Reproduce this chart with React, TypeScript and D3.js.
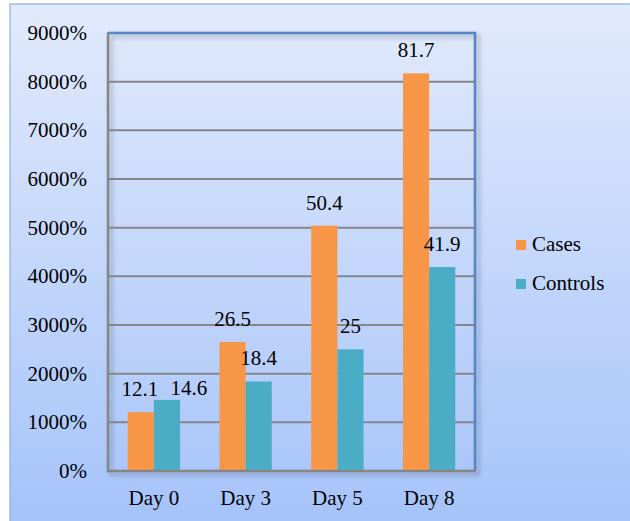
import { useEffect, useRef } from "react";
import * as d3 from "d3";

const days = ["Day 0", "Day 3", "Day 5", "Day 8"];
const seriesNames = ["Cases", "Controls"];
const cases = [12.1, 26.5, 50.4, 81.7];
const controls = [14.6, 18.4, 25, 41.9];
const yTicks = [0, 10, 20, 30, 40, 50, 60, 70, 80, 90];

const colors: Record<string, string> = { Cases: "#F79646", Controls: "#4BACC6" };

export default function App() {
  const ref = useRef<SVGSVGElement | null>(null);

  useEffect(() => {
    if (!ref.current) return;
    const svg = d3.select(ref.current);
    svg.selectAll("*").remove();

    const W = 630;
    const H = 521;
    const plot = { left: 108, right: 475, top: 33, bottom: 471 };
    const font = "Liberation Serif";

    const defs = svg.append("defs");
    const grad = defs
      .append("linearGradient")
      .attr("id", "bg")
      .attr("x1", 0)
      .attr("y1", 0)
      .attr("x2", 0)
      .attr("y2", 1);
    grad.append("stop").attr("offset", "0%").attr("stop-color", "#E2EAFC");
    grad.append("stop").attr("offset", "100%").attr("stop-color", "#A5C3FA");

    const shadow = defs.append("filter").attr("id", "shadow").attr("x", "-5%").attr("y", "-5%").attr("width", "115%").attr("height", "115%");
    shadow
      .append("feDropShadow")
      .attr("dx", 3)
      .attr("dy", 3)
      .attr("stdDeviation", 2.5)
      .attr("flood-color", "#000")
      .attr("flood-opacity", 0.35);

    // chart area
    svg
      .append("rect")
      .attr("x", 10)
      .attr("y", 4)
      .attr("width", W)
      .attr("height", H)
      .attr("fill", "url(#bg)")
      .attr("stroke", "#8EB0E6")
      .attr("stroke-width", 1.2);

    const x0 = d3.scaleBand<string>().domain(days).range([plot.left, plot.right]).paddingInner(0.43).paddingOuter(0.215);
    const x1 = d3.scaleBand<string>().domain(seriesNames).range([0, x0.bandwidth()]);
    const y = d3.scaleLinear().domain([0, 90]).range([plot.bottom, plot.top]);

    // plot frame with shadow
    svg
      .append("rect")
      .attr("x", plot.left)
      .attr("y", plot.top)
      .attr("width", plot.right - plot.left)
      .attr("height", plot.bottom - plot.top)
      .attr("fill", "none")
      .attr("stroke", "#7A9CCB")
      .attr("stroke-width", 2)
      .attr("filter", "url(#shadow)");

    // gridlines
    svg
      .append("g")
      .selectAll("line")
      .data(yTicks.slice(1, -1))
      .join("line")
      .attr("x1", plot.left)
      .attr("x2", plot.right)
      .attr("y1", (d) => y(d))
      .attr("y2", (d) => y(d))
      .attr("stroke", "#868686")
      .attr("stroke-width", 2);

    // top / right border
    svg
      .append("path")
      .attr("d", `M${plot.left},${plot.top}H${plot.right}V${plot.bottom}`)
      .attr("fill", "none")
      .attr("stroke", "#5585C4")
      .attr("stroke-width", 2.5);

    // bars
    const rows = days.map((day, i) => ({ day, values: [cases[i], controls[i]] }));
    const groups = svg
      .append("g")
      .selectAll("g")
      .data(rows)
      .join("g")
      .attr("transform", (d) => `translate(${x0(d.day)},0)`);

    groups
      .selectAll("rect")
      .data((d) => d.values.map((v, j) => ({ day: d.day, s: seriesNames[j], v })))
      .join("rect")
      .attr("x", (d) => x1(d.s)!)
      .attr("width", x1.bandwidth())
      .attr("y", (d) => y(d.v))
      .attr("height", (d) => y(0) - y(d.v))
      .attr("fill", (d) => colors[d.s]);

    // left / bottom axis lines
    svg
      .append("path")
      .attr("d", `M${plot.left},${plot.top}V${plot.bottom}H${plot.right}`)
      .attr("fill", "none")
      .attr("stroke", "#868686")
      .attr("stroke-width", 2.5);

    const styleText = (sel: d3.Selection<SVGTextElement, any, any, any>) =>
      sel.style("font-family", `"${font}", "Times New Roman", serif`).style("font-size", "21px").attr("fill", "#000");

    // value labels (Day 0 Controls label was nudged aside in the original)
    const shift: Record<string, [number, number]> = { "Day 0|Controls": [22, 11.5], "Day 0|Cases": [-1, 0] };
    groups
      .selectAll("text")
      .data((d) => d.values.map((v, j) => ({ day: d.day, s: seriesNames[j], v })))
      .join("text")
      .attr("x", (d) => x1(d.s)! + x1.bandwidth() / 2 + (shift[`${d.day}|${d.s}`]?.[0] ?? 0))
      .attr("y", (d) => y(d.v) - 16 + (shift[`${d.day}|${d.s}`]?.[1] ?? 0))
      .attr("text-anchor", "middle")
      .call(styleText)
      .text((d) => String(d.v));

    // y tick labels
    svg
      .append("g")
      .selectAll("text")
      .data(yTicks)
      .join("text")
      .attr("x", 87)
      .attr("y", (d) => y(d) + 7)
      .attr("text-anchor", "end")
      .call(styleText)
      .text((d) => `${d * 100}%`);

    // category labels
    svg
      .append("g")
      .selectAll("text")
      .data(days)
      .join("text")
      .attr("x", (d) => x0(d)! + x0.bandwidth() / 2)
      .attr("y", 505)
      .attr("text-anchor", "middle")
      .call(styleText)
      .text((d) => d);

    // legend
    const legend = svg
      .append("g")
      .selectAll("g")
      .data(seriesNames)
      .join("g")
      .attr("transform", (_, i) => `translate(516,${240 + i * 39})`);
    legend.append("rect").attr("width", 10).attr("height", 10).attr("fill", (d) => colors[d]);
    legend
      .append("text")
      .attr("x", 16)
      .attr("y", 11)
      .call(styleText)
      .text((d) => d);
  }, []);

  return (
    <svg
      ref={ref}
      width={630}
      height={521}
      style={{ position: "absolute", left: 0, top: 0, display: "block", background: "#fff" }}
    />
  );
}
